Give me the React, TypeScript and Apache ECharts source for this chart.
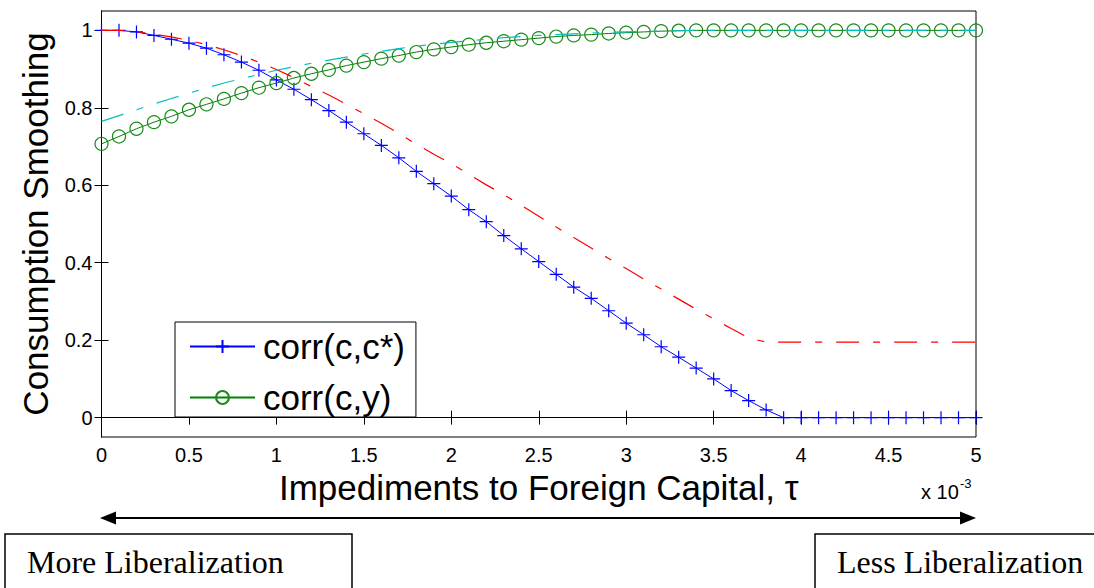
import React, { useEffect, useRef } from "react";
import * as echarts from "echarts";

const TAU = [
  0, 0.1, 0.2, 0.3, 0.4, 0.5, 0.6, 0.7, 0.8, 0.9,
  1.0, 1.1, 1.2, 1.3, 1.4, 1.5, 1.6, 1.7, 1.8, 1.9,
  2.0, 2.1, 2.2, 2.3, 2.4, 2.5, 2.6, 2.7, 2.8, 2.9,
  3.0, 3.1, 3.2, 3.3, 3.4, 3.5, 3.6, 3.7, 3.8, 3.9,
  4.0, 4.1, 4.2, 4.3, 4.4, 4.5, 4.6, 4.7, 4.8, 4.9, 5.0,
];

// corr(c,c*) – blue, "+" markers
const CORR_C_CSTAR = [
  1.0, 1.0, 0.996, 0.987, 0.977, 0.967, 0.954, 0.937, 0.918, 0.897,
  0.872, 0.848, 0.821, 0.793, 0.763, 0.733, 0.703, 0.671, 0.636, 0.604,
  0.572, 0.537, 0.506, 0.47, 0.436, 0.403, 0.37, 0.337, 0.308, 0.276,
  0.244, 0.214, 0.183, 0.156, 0.128, 0.1, 0.07, 0.044, 0.02, 0.0,
  0, 0, 0, 0, 0, 0, 0, 0, 0, 0, 0,
];

// corr(c,y) – green, circle markers
const CORR_C_Y = [
  0.707, 0.726, 0.746, 0.763, 0.778, 0.795, 0.809, 0.823, 0.838, 0.852,
  0.864, 0.877, 0.888, 0.898, 0.909, 0.918, 0.927, 0.935, 0.944, 0.951,
  0.957, 0.963, 0.968, 0.972, 0.976, 0.98, 0.984, 0.987, 0.989, 0.992,
  0.994, 0.996, 0.998, 0.999, 1, 1, 1, 1, 1, 1,
  1, 1, 1, 1, 1, 1, 1, 1, 1, 1, 1,
];

// red dash-dot curve
const CORR_C_CSTAR_ALT = [
  1.0, 1.0, 0.997, 0.99, 0.983, 0.974, 0.963, 0.95, 0.935, 0.918,
  0.899, 0.878, 0.855, 0.833, 0.809, 0.785, 0.76, 0.734, 0.706, 0.68,
  0.656, 0.628, 0.601, 0.576, 0.548, 0.52, 0.492, 0.465, 0.438, 0.411,
  0.385, 0.358, 0.332, 0.306, 0.28, 0.255, 0.23, 0.206, 0.195, 0.195,
  0.195, 0.195, 0.195, 0.195, 0.195, 0.195, 0.195, 0.195, 0.195, 0.195, 0.195,
];

// cyan dash-dot curve
const CORR_C_Y_ALT = [
  0.765, 0.78, 0.795, 0.81, 0.824, 0.838, 0.851, 0.864, 0.875, 0.886,
  0.897, 0.906, 0.915, 0.923, 0.931, 0.939, 0.946, 0.953, 0.959, 0.964,
  0.969, 0.973, 0.977, 0.981, 0.984, 0.987, 0.989, 0.991, 0.993, 0.995,
  0.996, 0.997, 0.998, 0.999, 1, 1, 1, 1, 1, 1,
  1, 1, 1, 1, 1, 1, 1, 1, 1, 1, 1,
];

const Y_TICKS = [0, 0.2, 0.4, 0.6, 0.8, 1];
const X_TITLE = "Impediments to Foreign Capital, τ";
const Y_TITLE = "Consumption Smoothing";
const LEGEND_NAMES = ["corr(c,c*)", "corr(c,y)"];
const LEFT_LABEL = "More Liberalization";
const RIGHT_LABEL = "Less Liberalization";

const SANS = '"Liberation Sans", Arial, Helvetica, sans-serif';
const SERIF = '"Liberation Serif", "Times New Roman", serif';
const DASHDOT = [23, 14, 7, 14];

const pairs = (ys: number[]) => TAU.map((t, i) => [t, ys[i]]);

export default function App() {
  const ref = useRef<HTMLDivElement>(null);

  useEffect(() => {
    if (!ref.current) return;
    const chart = echarts.init(ref.current, null, { renderer: "svg" });

    const tickAxisCommon = {
      axisLine: { show: true, lineStyle: { color: "#000", width: 1 } },
      splitLine: { show: false },
    };

    const option: any = {
      animation: false,
      backgroundColor: "#fff",
      textStyle: { fontFamily: SANS },
      grid: {
        left: 101.5,
        right: 118,
        top: 11,
        bottom: 151,
        show: true,
        borderColor: "#000",
        borderWidth: 1,
      },
      legend: {
        show: true,
        data: LEGEND_NAMES,
        left: 175,
        top: 322,
        orient: "vertical",
        itemWidth: 65,
        itemHeight: 16,
        itemGap: 16,
        padding: [7, 11, 2, 14],
        borderColor: "#000",
        borderWidth: 1,
        backgroundColor: "#fff",
        selectedMode: false,
        textStyle: { fontSize: 35, color: "#000", fontFamily: SANS, padding: [0, 0, 0, 3] },
      },
      xAxis: [
        {
          type: "value",
          min: 0,
          max: 5,
          interval: 0.5,
          position: "bottom",
          ...tickAxisCommon,
          axisTick: { show: true, inside: true, length: 7, lineStyle: { color: "#000" } },
          axisLabel: { show: true, fontSize: 20, color: "#000", margin: 8, fontFamily: SANS },
          name: X_TITLE,
          nameLocation: "middle",
          nameGap: 48,
          nameTextStyle: { fontSize: 35, color: "#000", verticalAlign: "middle", fontFamily: SANS },
        },
        {
          type: "value",
          min: 0,
          max: 5,
          interval: 0.5,
          position: "top",
          ...tickAxisCommon,
          axisTick: { show: true, inside: true, length: 7, lineStyle: { color: "#000" } },
          axisLabel: { show: false },
        },
      ],
      yAxis: [
        {
          type: "value",
          min: -0.05,
          max: 1.05,
          position: "left",
          ...tickAxisCommon,
          axisTick: {
            show: true,
            inside: true,
            length: 7,
            customValues: Y_TICKS,
            lineStyle: { color: "#000" },
          },
          axisLabel: {
            show: true,
            customValues: Y_TICKS,
            fontSize: 20,
            color: "#000",
            margin: 9,
            fontFamily: SANS,
          },
          name: Y_TITLE,
          nameLocation: "middle",
          nameGap: 66,
          nameRotate: 90,
          nameTextStyle: { fontSize: 35, color: "#000", verticalAlign: "middle", fontFamily: SANS },
        },
        {
          type: "value",
          min: -0.05,
          max: 1.05,
          position: "right",
          ...tickAxisCommon,
          axisTick: {
            show: true,
            inside: true,
            length: 7,
            customValues: Y_TICKS,
            lineStyle: { color: "#000" },
          },
          axisLabel: { show: false, customValues: Y_TICKS },
        },
      ],
      series: [
        {
          name: LEGEND_NAMES[0],
          type: "line",
          data: pairs(CORR_C_CSTAR),
          xAxisIndex: 0,
          yAxisIndex: 0,
          symbol: "path://M5,0L5,10M0,5L10,5",
          symbolSize: 13,
          showSymbol: true,
          showAllSymbol: true,
          lineStyle: { color: "#0000ff", width: 1 },
          itemStyle: { color: "rgba(0,0,0,0)", borderColor: "#0000ff", borderWidth: 1.2 },
          z: 2,
        },
        {
          name: LEGEND_NAMES[1],
          type: "line",
          data: pairs(CORR_C_Y),
          xAxisIndex: 0,
          yAxisIndex: 0,
          symbol: "circle",
          symbolSize: 13,
          showSymbol: true,
          showAllSymbol: true,
          lineStyle: { color: "#008000", width: 1 },
          itemStyle: { color: "rgba(0,0,0,0)", borderColor: "#1a8a1a", borderWidth: 1.2 },
          z: 3,
        },
        {
          name: "corr(c,c*) alt",
          type: "line",
          data: pairs(CORR_C_CSTAR_ALT),
          xAxisIndex: 0,
          yAxisIndex: 0,
          symbol: "none",
          showSymbol: false,
          lineStyle: { color: "#ff0000", width: 1.2, type: DASHDOT },
          itemStyle: { color: "#ff0000" },
          z: 4,
        },
        {
          name: "corr(c,y) alt",
          type: "line",
          data: pairs(CORR_C_Y_ALT),
          xAxisIndex: 0,
          yAxisIndex: 0,
          symbol: "none",
          showSymbol: false,
          lineStyle: { color: "#00bfbf", width: 1.2, type: DASHDOT },
          itemStyle: { color: "#00bfbf" },
          z: 5,
        },
      ],
      graphic: [
        {
          type: "text",
          x: 921,
          y: 492,
          style: { text: "x 10", fontSize: 20, fontFamily: SANS, fill: "#000", align: "left", verticalAlign: "middle" },
        },
        {
          type: "text",
          x: 960,
          y: 483,
          style: { text: "-3", fontSize: 13, fontFamily: SANS, fill: "#000", align: "left", verticalAlign: "middle" },
        },
        {
          type: "line",
          shape: { x1: 112, y1: 518, x2: 964, y2: 518 },
          style: { stroke: "#000", lineWidth: 2 },
        },
        {
          type: "polygon",
          shape: { points: [[100, 518], [116, 511.5], [116, 524.5]] },
          style: { fill: "#000" },
        },
        {
          type: "polygon",
          shape: { points: [[976, 518], [960, 511.5], [960, 524.5]] },
          style: { fill: "#000" },
        },
        {
          type: "rect",
          shape: { x: 5, y: 534, width: 347, height: 70 },
          style: { fill: "#fff", stroke: "#000", lineWidth: 1.5 },
        },
        {
          type: "rect",
          shape: { x: 815, y: 534, width: 290, height: 70 },
          style: { fill: "#fff", stroke: "#000", lineWidth: 1.5 },
        },
        {
          type: "text",
          x: 27,
          y: 562,
          style: { text: LEFT_LABEL, fontSize: 32, fontFamily: SERIF, fill: "#000", align: "left", verticalAlign: "middle" },
        },
        {
          type: "text",
          x: 837,
          y: 562,
          style: { text: RIGHT_LABEL, fontSize: 32, fontFamily: SERIF, fill: "#000", align: "left", verticalAlign: "middle" },
        },
      ],
    };

    chart.setOption(option);
    return () => chart.dispose();
  }, []);

  return (
    <div
      ref={ref}
      style={{ position: "fixed", left: 0, top: 0, width: 1094, height: 588, background: "#fff" }}
    />
  );
}
